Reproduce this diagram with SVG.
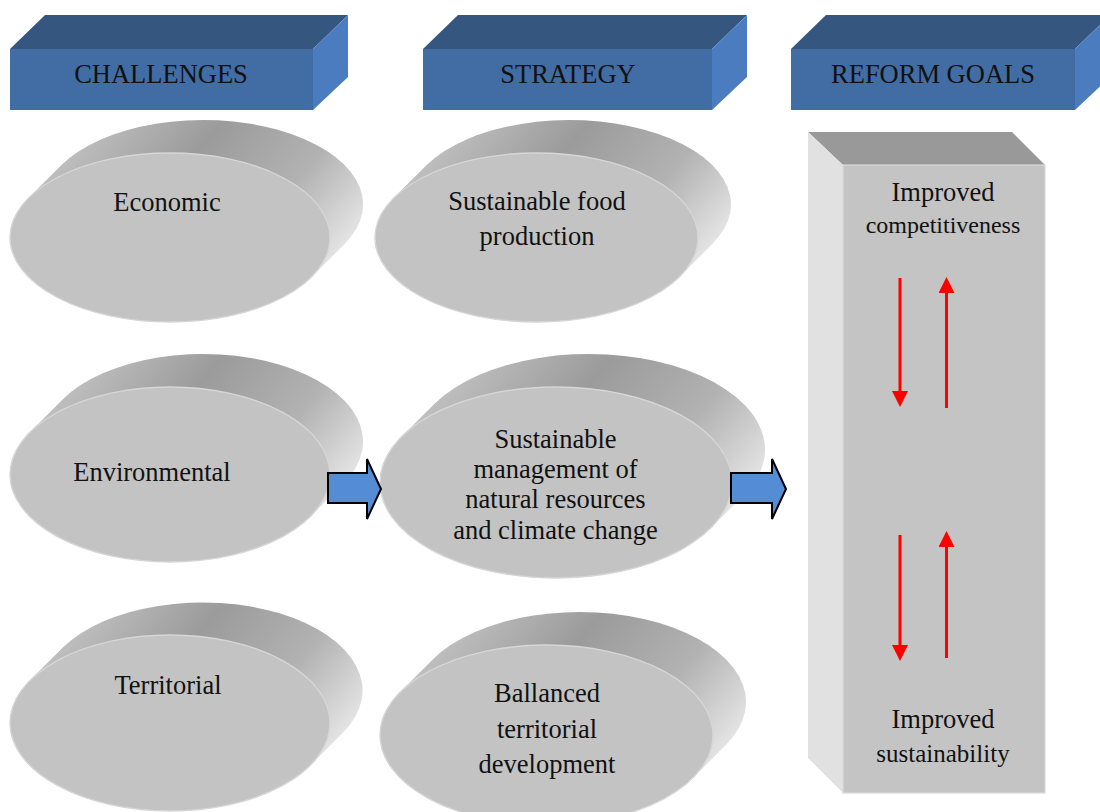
<svg xmlns="http://www.w3.org/2000/svg" width="1100" height="812" viewBox="0 0 1100 812">
  <style>
    text { font-family: "Liberation Serif", "Times New Roman", serif; fill: #111; text-anchor: middle; }
    .lbl { font-size: 26.5px; }
    .hdr { font-size: 26.5px; }
    .hd-front { fill: #416da4; }
    .hd-top { fill: #34567f; }
    .hd-side { fill: #4a7cbf; }
    .disc-side { fill: url(#discSide); }
    .disc-front { fill: #c3c3c3; stroke: #d6d6d6; stroke-width: 1.4; }
    .flow { fill: #548dd4; stroke: #000; stroke-width: 2; stroke-linejoin: miter; }
    .rel { stroke: #ff0000; stroke-width: 3; fill: none; marker-end: url(#redHead); }
  </style>
  <defs>
    <linearGradient id="discSide" x1="0" y1="0.3" x2="1" y2="0.7">
      <stop offset="0" stop-color="#c6c6c6"/>
      <stop offset="0.4" stop-color="#9b9b9b"/>
      <stop offset="0.72" stop-color="#b2b2b2"/>
      <stop offset="1" stop-color="#e6e6e6"/>
    </linearGradient>
    <marker id="redHead" viewBox="0 0 16 16" refX="0" refY="8" markerWidth="16" markerHeight="16" markerUnits="userSpaceOnUse" orient="auto">
      <path d="M0,0 L16,8 L0,16 Z" fill="#ff0000"/>
    </marker>
  </defs>
  <rect width="1100" height="812" fill="#ffffff"/>

  <!-- column headers -->
  <g id="hdr-challenges">
    <polygon class="hd-top" points="10,49 45,15 348,15 313,49"/>
    <polygon class="hd-side" points="313,49 348,15 348,77 313,110"/>
    <rect class="hd-front" x="10" y="49" width="303" height="61"/>
    <text class="hdr" x="161" y="83">CHALLENGES</text>
  </g>
  <g id="hdr-strategy">
    <polygon class="hd-top" points="423,49 458,15 747,15 712,49"/>
    <polygon class="hd-side" points="712,49 747,15 747,77 712,110"/>
    <rect class="hd-front" x="423" y="49" width="289" height="61"/>
    <text class="hdr" x="568" y="83">STRATEGY</text>
  </g>
  <g id="hdr-goals">
    <polygon class="hd-top" points="791,49 826,15 1110,15 1075,49"/>
    <polygon class="hd-side" points="1075,49 1110,15 1110,77 1075,110"/>
    <rect class="hd-front" x="791" y="49" width="284" height="61"/>
    <text class="hdr" x="933" y="83">REFORM GOALS</text>
  </g>

  <!-- challenge discs -->
  <g id="economic">
    <path class="disc-side" d="M311.5,277 L344.5,244 A160,84.5 0 0 0 61.5,165 L28.5,198 Z"/>
    <ellipse class="disc-front" cx="170" cy="237.5" rx="160" ry="84.5"/>
    <text class="lbl" x="167" y="211">Economic</text>
  </g>
  <g id="environmental">
    <path class="disc-side" d="M310.4,516.5 L343.4,483.5 A160,87.5 0 0 0 62.6,399.5 L29.6,432.5 Z"/>
    <ellipse class="disc-front" cx="170" cy="474.5" rx="160" ry="87.5"/>
    <text class="lbl" x="152" y="481">Environmental</text>
  </g>
  <g id="territorial">
    <path class="disc-side" d="M310.2,765.4 L343.2,732.4 A160,88 0 0 0 62.8,647.6 L29.8,680.6 Z"/>
    <ellipse class="disc-front" cx="170" cy="723" rx="160" ry="88"/>
    <text class="lbl" x="168" y="694">Territorial</text>
  </g>

  <!-- strategy discs -->
  <g id="food-production">
    <path class="disc-side" d="M679.6,276.7 L712.6,243.7 A161.5,84.5 0 0 0 426.4,165.3 L393.4,198.3 Z"/>
    <ellipse class="disc-front" cx="536.5" cy="237.5" rx="161.5" ry="84.5"/>
    <text class="lbl" x="537" y="210">Sustainable food</text>
    <text class="lbl" x="537" y="245">production</text>
  </g>
  <g id="resource-management">
    <path class="disc-side" d="M710.7,528.1 L743.7,495.1 A176,95.5 0 0 0 434.3,403.9 L401.3,436.9 Z"/>
    <ellipse class="disc-front" cx="556" cy="482.5" rx="176" ry="95.5"/>
    <text class="lbl" x="555.5" y="448">Sustainable</text>
    <text class="lbl" x="555.5" y="478">management of</text>
    <text class="lbl" x="555.5" y="508">natural resources</text>
    <text class="lbl" x="555.5" y="539">and climate change</text>
  </g>
  <g id="territorial-development">
    <path class="disc-side" d="M693,777.8 L726,744.8 A166.5,90 0 0 0 433,659.2 L400,692.2 Z"/>
    <ellipse class="disc-front" cx="546.5" cy="735" rx="166.5" ry="90"/>
    <text class="lbl" x="547" y="702">Ballanced</text>
    <text class="lbl" x="547" y="738">territorial</text>
    <text class="lbl" x="547" y="773">development</text>
  </g>

  <!-- reform goals pillar -->
  <g id="reform-goals">
    <polygon fill="#999999" points="808,132 1012,132 1045,165 843,165"/>
    <polygon fill="#e1e1e1" points="808,132 843,165 843,793 808,758"/>
    <rect x="843" y="165" width="202" height="628" fill="#c4c4c4" stroke="#dadada" stroke-width="1.2"/>
    <text class="lbl" x="943" y="201">Improved</text>
    <text x="943" y="233" font-size="24">competitiveness</text>
    <text class="lbl" x="943" y="728">Improved</text>
    <text x="943" y="762" font-size="25">sustainability</text>
  </g>

  <!-- connectors -->
  <g id="connectors">
    <polygon class="flow" points="328,473 367,473 367,459 381,489 367,519 367,503 328,503"/>
    <polygon class="flow" points="731,473 772,473 772,459 786,489 772,519 772,503 731,503"/>
    <line class="rel" x1="900" y1="278" x2="900" y2="391"/>
    <line class="rel" x1="946.5" y1="408" x2="946.5" y2="293"/>
    <line class="rel" x1="900" y1="535" x2="900" y2="645"/>
    <line class="rel" x1="946.5" y1="658" x2="946.5" y2="547"/>
  </g>
</svg>
